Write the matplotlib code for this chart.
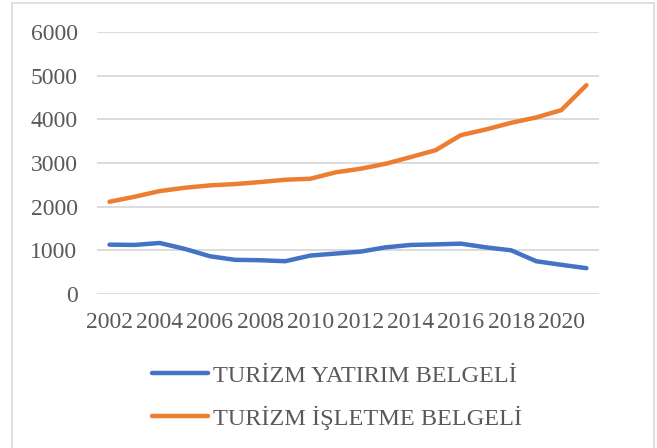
import matplotlib
matplotlib.use('Agg')
import matplotlib.pyplot as plt
from matplotlib.patches import Rectangle

# Veriler (grafikten okunan yaklaşık değerler)
years = list(range(2002, 2022))
yatirim = [1130, 1123, 1168, 1032, 864, 782, 773, 750, 880, 925,
           970, 1068, 1123, 1136, 1152, 1068, 1000, 750, 668, 591]
isletme = [2112, 2227, 2357, 2432, 2487, 2517, 2563, 2616, 2639, 2785,
           2868, 2982, 3135, 3295, 3638, 3768, 3920, 4043, 4211, 4783]
labels = ['TURİZM YATIRIM BELGELİ', 'TURİZM İŞLETME BELGELİ']
tick_years = [str(y) for y in years[::2]]

plt.rcParams['font.family'] = ['Liberation Serif', 'DejaVu Serif']
text_color = '#595959'

fig = plt.figure(figsize=(6.57, 4.48), dpi=100)
ax = fig.add_axes([0.1476, 0.3438, 0.7641, 0.5848])

x = list(range(len(years)))
ax.plot(x, yatirim, color='#4472C4', lw=3.2, solid_capstyle='round', label=labels[0])
ax.plot(x, isletme, color='#ED7D31', lw=3.2, solid_capstyle='round', label=labels[1])

ax.set_xlim(-0.5, len(years) - 0.5)
ax.set_ylim(0, 6000)
ax.set_yticks(range(0, 6001, 1000))
ax.set_xticks(x[::2])
ax.set_xticklabels(tick_years)
ax.tick_params(axis='both', length=0, labelsize=17, labelcolor=text_color)
ax.tick_params(axis='y', pad=14)
ax.tick_params(axis='x', pad=13)
ax.grid(axis='y', color='#D9D9D9', lw=1.3)
ax.set_axisbelow(True)
for s in ax.spines.values():
    s.set_visible(False)

leg = fig.legend(loc='upper left', bbox_to_anchor=(0.2173, 0.2075), frameon=False,
                 fontsize=17.5, handlelength=2.3, handletextpad=0.2,
                 labelspacing=0.78, borderaxespad=0)
for t in leg.get_texts():
    t.set_color(text_color)

# cerceve
fig.patches.append(Rectangle((12 / 657, -0.05), (653.5 - 12) / 657, 1.05 - 3 / 448,
                             transform=fig.transFigure, fill=False,
                             edgecolor='#D9D9D9', lw=1.2))

fig.savefig('out.png', dpi=100)
